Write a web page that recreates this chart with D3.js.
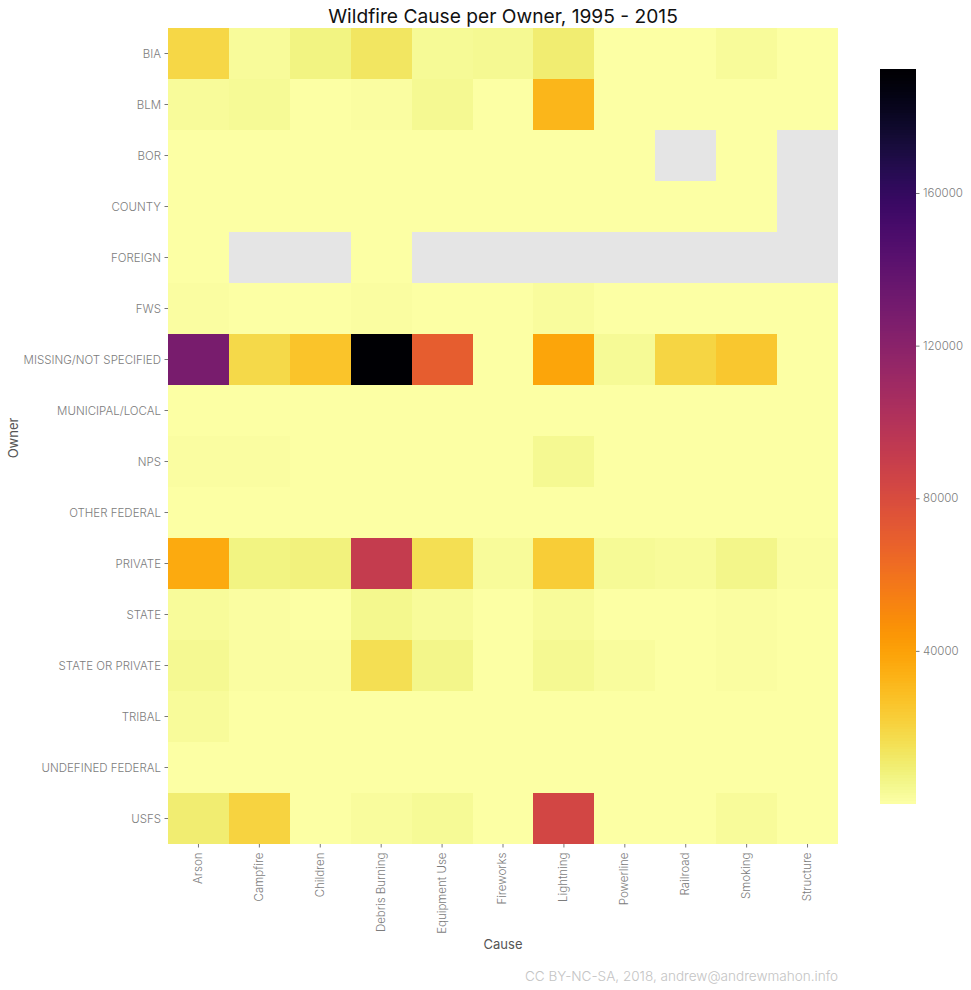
<!DOCTYPE html>
<html>
<head>
<meta charset="utf-8">
<script src="https://cdn.jsdelivr.net/npm/d3@7"></script>
<style>
body { margin: 0; background: white; }
svg { display: block; }
text { font-family: Inter, Roboto, sans-serif; }
</style>
</head>
<body>
<div id="chart"></div>
<script>
const causes = ["Arson", "Campfire", "Children", "Debris Burning", "Equipment Use", "Fireworks", "Lightning", "Powerline", "Railroad", "Smoking", "Structure"];
const owners = ["BIA", "BLM", "BOR", "COUNTY", "FOREIGN", "FWS", "MISSING/NOT SPECIFIED", "MUNICIPAL/LOCAL", "NPS", "OTHER FEDERAL", "PRIVATE", "STATE", "STATE OR PRIVATE", "TRIBAL", "UNDEFINED FEDERAL", "USFS"];
// null = no fires recorded (grey background shows through)
const bia = [19000, 2500, 7500, 13500, 3500, 4000, 10000, 400, 400, 2500, 200];
const blm = [2800, 3500, 200, 1200, 3800, 100, 32000, 100, 50, 300, 50];
const bor = [50, 50, 50, 50, 50, 20, 50, 20, null, 20, null];
const county = [50, 50, 50, 50, 50, 20, 50, 20, 20, 20, null];
const foreign = [20, null, null, 20, null, null, null, null, null, null, null];
const fws = [1000, 300, 300, 1000, 300, 50, 2200, 50, 50, 100, 20];
const missing = [128000, 18500, 27000, 192500, 70000, 300, 38500, 3500, 20000, 25500, 300];
const municipal = [150, 100, 100, 100, 100, 20, 50, 20, 20, 50, 20];
const nps = [1000, 1500, 200, 100, 200, 20, 4500, 20, 20, 50, 20];
const otherFederal = [50, 50, 20, 20, 20, 10, 50, 10, 10, 20, 10];
const privateLand = [36500, 7500, 8000, 91000, 16000, 2300, 23000, 3500, 2800, 6000, 1000];
const stateLand = [3000, 1200, 500, 5000, 2800, 200, 3000, 500, 300, 1000, 200];
const stateOrPrivate = [4000, 1200, 1000, 16500, 6000, 200, 4000, 2200, 500, 1000, 200];
const tribal = [2800, 200, 200, 300, 200, 20, 200, 20, 20, 100, 20];
const undefinedFederal = [50, 50, 20, 50, 20, 10, 20, 10, 10, 20, 10];
const usfs = [10500, 20500, 700, 2000, 3200, 200, 84000, 100, 100, 3000, 100];
const counts = [bia, blm, bor, county, foreign, fws, missing, municipal, nps, otherFederal, privateLand, stateLand, stateOrPrivate, tribal, undefinedFederal, usfs];
const legendTicks = [40000, 80000, 120000, 160000];
const maxCount = 192500;

const width = 971, height = 990;
const margin = {top: 28, right: 133, bottom: 146, left: 168};

const svg = d3.select("#chart")
    .append("svg")
    .attr("width", width)
    .attr("height", height);

const x = d3.scaleBand().domain(causes).range([margin.left, width - margin.right]);
const y = d3.scaleBand().domain(owners).range([margin.top, height - margin.bottom]);
// inferno, reversed: low counts are pale yellow
const color = v => d3.interpolateInferno(1 - v / maxCount);

svg.append("rect")
    .attr("x", margin.left)
    .attr("y", margin.top)
    .attr("width", x.range()[1] - x.range()[0])
    .attr("height", y.range()[1] - y.range()[0])
    .attr("fill", "#e5e5e5");

const cells = counts.flatMap((row, i) => row.map((v, j) => ({owner: owners[i], cause: causes[j], v})));

svg.append("g")
    .attr("shape-rendering", "crispEdges")
    .selectAll("rect")
    .data(cells.filter(d => d.v !== null))
    .join("rect")
    .attr("x", d => x(d.cause))
    .attr("y", d => y(d.owner))
    .attr("width", x.bandwidth())
    .attr("height", y.bandwidth())
    .attr("fill", d => color(d.v));

function styleAxis(g) {
    g.select(".domain").remove();
    g.selectAll(".tick line").attr("stroke", "#555").attr("stroke-width", 0.8);
    g.selectAll(".tick text").attr("fill", "#7c7c7c").attr("font-size", 11.5).attr("font-weight", 300);
}

svg.append("g")
    .attr("transform", `translate(0,${y.range()[1]})`)
    .call(d3.axisBottom(x).tickSize(3.5).tickPadding(5))
    .call(styleAxis)
    .selectAll(".tick text")
    .attr("transform", "rotate(-90)")
    .attr("text-anchor", "end")
    .attr("dx", "-8.5")
    .attr("x", 0)
    .attr("y", 0)
    .attr("dy", "0.3em");

svg.append("g")
    .attr("transform", `translate(${margin.left},0)`)
    .call(d3.axisLeft(y).tickSize(3.5).tickPadding(3.5))
    .call(styleAxis)
    .selectAll(".tick text")
    .attr("dy", "0.42em");

// colorbar
const barX = 880, barW = 36;
const barY = d3.scaleLinear().domain([0, maxCount]).range([803.5, 69]);
const steps = d3.range(0, 256);
svg.append("g")
    .attr("shape-rendering", "crispEdges")
    .selectAll("rect")
    .data(steps)
    .join("rect")
    .attr("x", barX)
    .attr("width", barW)
    .attr("y", d => barY((d + 1) / 256 * maxCount))
    .attr("height", barY(0) - barY(maxCount / 256) + 0.5)
    .attr("fill", d => color((d + 0.5) / 256 * maxCount));

svg.append("g")
    .attr("transform", `translate(${barX + barW},0)`)
    .call(d3.axisRight(barY).tickValues(legendTicks).tickFormat(d3.format("d")).tickSize(3.5).tickPadding(3.5))
    .call(styleAxis)
    .selectAll(".tick text")
    .attr("font-size", 11.5);

svg.append("text")
    .attr("x", 503)
    .attr("y", 23)
    .attr("text-anchor", "middle")
    .attr("font-size", 19.2)
    .attr("fill", "#111")
    .text("Wildfire Cause per Owner, 1995 - 2015");

svg.append("text")
    .attr("x", 503)
    .attr("y", 949)
    .attr("text-anchor", "middle")
    .attr("font-size", 13)
    .attr("fill", "#555")
    .text("Cause");

svg.append("text")
    .attr("transform", "translate(18,438) rotate(-90)")
    .attr("text-anchor", "middle")
    .attr("font-size", 13)
    .attr("fill", "#555")
    .text("Owner");

svg.append("text")
    .attr("x", 838)
    .attr("y", 981)
    .attr("text-anchor", "end")
    .attr("font-size", 13.55)
    .attr("font-weight", 300)
    .attr("fill", "#c4c4c4")
    .text("CC BY-NC-SA, 2018, andrew@andrewmahon.info");
</script>
</body>
</html>
